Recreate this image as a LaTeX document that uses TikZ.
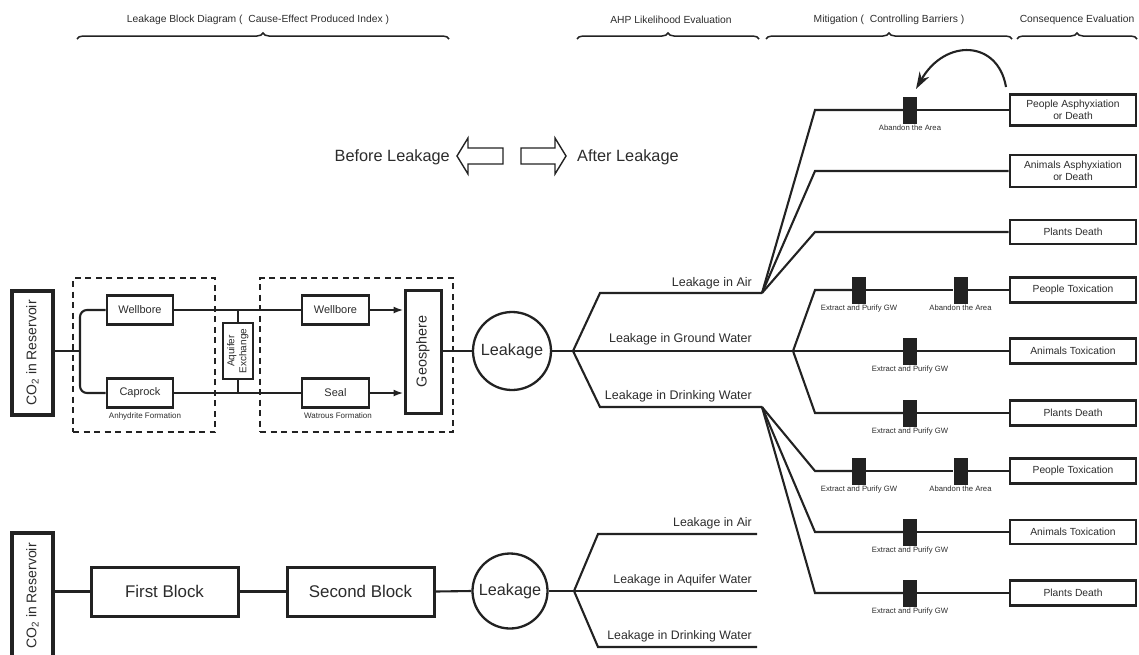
\documentclass[tikz,border=0pt]{standalone}
\usepackage{fontspec}
\setmainfont{Liberation Sans}
\usetikzlibrary{arrows.meta,decorations.pathreplacing}
\definecolor{ink}{HTML}{222222}
\definecolor{txt}{HTML}{2c2c2c}
\tikzset{
  box/.style={draw=ink, line width=2.9pt, fill=white, inner sep=0pt, text=txt, align=center},
  conn/.style={draw=ink, line width=2.1pt},
  barrier/.style={fill=ink, minimum width=14pt, minimum height=27pt, inner sep=0pt},
  barlbl/.style={font=\fontsize{7.7}{9}\selectfont, text=txt, inner sep=1pt},
  conseq/.style={box, minimum width=126pt, font=\fontsize{10.3}{12.2}\selectfont},
  smallblk/.style={box, minimum width=66pt, minimum height=29pt, font=\fontsize{11}{13}\selectfont},
  bigblk/.style={box, line width=3pt, minimum width=147pt, minimum height=49pt, font=\fontsize{16.9}{20}\selectfont},
  branchlbl/.style={font=\fontsize{12.5}{15}\selectfont, text=txt, anchor=east, inner sep=0pt},
  formlbl/.style={font=\fontsize{8}{9}\selectfont, text=txt, inner sep=0pt},
  headlbl/.style={font=\fontsize{10.3}{12}\selectfont, text=txt, inner sep=0pt},
  bracket/.style={draw=ink, line width=1.5pt, decorate, decoration={brace, amplitude=6pt}},
  framebox/.style={draw=ink, line width=1.8pt, dash pattern=on 6pt off 4.5pt, inner sep=0pt},
  hollow/.style={draw=ink, line width=1.4pt, fill=white, line join=miter},
  leakcirc/.style={circle, draw=ink, line width=2.3pt, fill=white, inner sep=0pt, text=txt, font=\fontsize{16.2}{19}\selectfont},
  reservoir/.style={box, line width=3.4pt, minimum width=41pt, font=\fontsize{14}{16}\selectfont},
  tiparrow/.style={-{Latex[length=10pt,width=7pt]}}
}
\begin{document}
\begin{tikzpicture}[x=1pt,y=-1pt]
\useasboundingbox (0,0) rectangle (1139,654);

% ---------- section headings with braces ----------
\node[headlbl] (hA) at (258,20) {Leakage Block Diagram (\ \ Cause-Effect Produced Index )};
\node[headlbl] (hB) at (671,20) {AHP Likelihood Evaluation};
\node[headlbl] (hC) at (889,20) {Mitigation (\ \ Controlling Barriers )};
\node[headlbl] (hD) at (1077,20) {Consequence Evaluation};
\draw[bracket] (77,39) -- (449,39);
\draw[bracket] (577,39) -- (759,39);
\draw[bracket] (766,39) -- (1012,39);
\draw[bracket] (1017,39) -- (1137,39);

% ---------- before / after arrows ----------
\node[font=\fontsize{16.3}{19}\selectfont, text=txt, anchor=east, inner sep=0pt] (before) at (450,157) {Before Leakage};
\node[font=\fontsize{16.3}{19}\selectfont, text=txt, anchor=west, inner sep=0pt] (after) at (577,157) {After Leakage};
\draw[hollow] (503,148) -- (468,148) -- (468,138) -- (457,156) -- (468,174) -- (468,164) -- (503,164) -- cycle;
\draw[hollow] (521,148) -- (555,148) -- (555,138) -- (566,156) -- (555,174) -- (555,164) -- (521,164) -- cycle;

% ---------- upper block diagram ----------
\node[framebox, minimum width=142pt, minimum height=154pt] (frA) at (144,355) {};
\node[framebox, minimum width=193pt, minimum height=154pt] (frB) at (356.5,355) {};
\node[formlbl] (anh) at (145,416) {Anhydrite Formation};
\node[formlbl] (wat) at (338,416) {Watrous Formation};

\node[reservoir, minimum height=124pt] (co2a) at (32.5,353) {\rotatebox{90}{CO\textsubscript{2} in Reservoir}};
\coordinate (j1) at (80,351);
\node[smallblk] (wb1) at (140,310) {Wellbore};
\node[smallblk] (cr1) at (140,393) {Caprock};
\node[box, line width=2.6pt, minimum width=30pt, minimum height=56pt, font=\fontsize{10}{12}\selectfont] (aq) at (238,351)
  {\rotatebox{90}{\begin{tabular}{@{}c@{}}Aquifer\\Exchange\end{tabular}}};
\node[smallblk, minimum width=67pt] (wb2) at (335.5,310) {Wellbore};
\node[smallblk, minimum width=67pt] (seal) at (335.5,393) {Seal};
\node[box, line width=3pt, minimum width=36pt, minimum height=123pt, font=\fontsize{14.4}{17}\selectfont] (geo) at (423,351.5)
  {\rotatebox{90}{Geosphere}};
\node[leakcirc, minimum size=78pt] (leak1) at (512,351) {Leakage};

\draw[conn] (co2a.east |- j1) -- (j1);
\draw[conn, rounded corners=7pt] (wb1.west) -- (j1 |- wb1.west) -- (j1 |- cr1.west) -- (cr1.west);
\draw[conn] (wb1.east) -- (wb2.west);
\draw[conn] (cr1.east) -- (seal.west);
\draw[conn] (aq.north) -- (aq.north |- wb1.east);
\draw[conn] (aq.south) -- (aq.south |- cr1.east);
\draw[conn, tiparrow] (wb2.east) -- (wb2.east -| geo.west);
\draw[conn, tiparrow] (seal.east) -- (seal.east -| geo.west);
\draw[conn] (geo.east |- leak1.west) -- (leak1.west);

% ---------- upper leakage pathways ----------
\coordinate (sp1) at (573,351);
\coordinate (airC) at (600,293);
\coordinate (airE) at (762,293);
\coordinate (gwE) at (793,351);
\coordinate (dwC) at (600,407);
\coordinate (dwE) at (762,407);
\draw[conn] (leak1.east) -- (sp1);
\draw[conn] (sp1) -- (airC) -- (airE);
\draw[conn] (sp1) -- (gwE);
\draw[conn] (sp1) -- (dwC) -- (dwE);
\node[branchlbl] (lAir) at (752,283) {Leakage in Air};
\node[branchlbl] (lGW) at (752,339) {Leakage in Ground Water};
\node[branchlbl] (lDW) at (752,396) {Leakage in Drinking Water};

% ---------- consequence boxes ----------
\node[conseq, minimum height=31pt] (c1) at (1073,110) {People Asphyxiation\\or Death};
\node[conseq, minimum height=32pt] (c2) at (1073,171) {Animals Asphyxiation\\or Death};
\node[conseq, minimum height=24pt] (c3) at (1073,232) {Plants Death};
\node[conseq, minimum height=25pt] (c4) at (1073,290) {People Toxication};
\node[conseq, minimum height=25pt] (c5) at (1073,351) {Animals Toxication};
\node[conseq, minimum height=25pt] (c6) at (1073,413) {Plants Death};
\node[conseq, minimum height=25pt] (c7) at (1073,471) {People Toxication};
\node[conseq, minimum height=24pt] (c8) at (1073,532) {Animals Toxication};
\node[conseq, minimum height=25pt] (c9) at (1073,593) {Plants Death};

% ---------- controlling barriers ----------
\node[barrier, label={[barlbl]below:Abandon the Area}] (bA1) at (910,110) {};
\node[barrier, label={[barlbl]below:Extract and Purify GW}] (bP1) at (859,290) {};
\node[barrier, label={[barlbl]below:Abandon the Area}] (bA2) at (960.5,290) {};
\node[barrier, label={[barlbl]below:Extract and Purify GW}] (bP2) at (910,351) {};
\node[barrier, label={[barlbl]below:Extract and Purify GW}] (bP3) at (910,413) {};
\node[barrier, label={[barlbl]below:Extract and Purify GW}] (bP4) at (859,471) {};
\node[barrier, label={[barlbl]below:Abandon the Area}] (bA3) at (960.5,471) {};
\node[barrier, label={[barlbl]below:Extract and Purify GW}] (bP5) at (910,532) {};
\node[barrier, label={[barlbl]below:Extract and Purify GW}] (bP6) at (910,593) {};

% fan-out knees
\coordinate (k1) at (815,110);
\coordinate (k2) at (815,171);
\coordinate (k3) at (815,232);
\coordinate (k4) at (815,290);
\coordinate (k6) at (815,413);
\coordinate (k7) at (815,471);
\coordinate (k8) at (815,532);
\coordinate (k9) at (815,593);

% air branch
\draw[conn] (airE) -- (k1) -- (bA1.west);
\draw[conn] (bA1.east) -- (c1.west);
\draw[conn] (airE) -- (k2) -- (c2.west);
\draw[conn] (airE) -- (k3) -- (c3.west);
% ground water branch
\draw[conn] (gwE) -- (k4) -- (bP1.west);
\draw[conn] (bP1.east) -- (bA2.west);
\draw[conn] (bA2.east) -- (c4.west);
\draw[conn] (gwE) -- (bP2.west);
\draw[conn] (bP2.east) -- (c5.west);
\draw[conn] (gwE) -- (k6) -- (bP3.west);
\draw[conn] (bP3.east) -- (c6.west);
% drinking water branch
\draw[conn] (dwE) -- (k7) -- (bP4.west);
\draw[conn] (bP4.east) -- (bA3.west);
\draw[conn] (bA3.east) -- (c7.west);
\draw[conn] (dwE) -- (k8) -- (bP5.west);
\draw[conn] (bP5.east) -- (c8.west);
\draw[conn] (dwE) -- (k9) -- (bP6.west);
\draw[conn] (bP6.east) -- (c9.west);

% evacuation loop back to the barrier
\coordinate (loopS) at (1006,87);
\coordinate (loopE) at (916,89);
\draw[conn, -{Stealth[length=17pt,width=11pt]}] (loopS) .. controls (998,40) and (945,38) .. (loopE);

% ---------- lower simplified diagram ----------
\node[reservoir, minimum height=126pt] (co2b) at (32.5,596) {\rotatebox{90}{CO\textsubscript{2} in Reservoir}};
\node[bigblk] (first) at (164.5,591.5) {First Block};
\node[bigblk] (second) at (360.5,591.5) {Second Block};
\node[leakcirc, minimum size=75pt] (leak2) at (510,591) {Leakage};
\draw[conn] (co2b.east |- first.west) -- (first.west);
\draw[conn] (first.east) -- (second.west);
\draw[conn] (second.east) -- (leak2.west);

\coordinate (sp2) at (574,591);
\coordinate (aC) at (598,534);
\coordinate (aE) at (757,534);
\coordinate (qE) at (757,591);
\coordinate (dC) at (598,647);
\coordinate (dE) at (757,647);
\draw[conn] (leak2.east) -- (sp2);
\draw[conn] (sp2) -- (aC) -- (aE);
\draw[conn] (sp2) -- (qE);
\draw[conn] (sp2) -- (dC) -- (dE);
\node[branchlbl, font=\fontsize{12.3}{15}\selectfont] (bAir) at (752,523) {Leakage in Air};
\node[branchlbl, font=\fontsize{12.3}{15}\selectfont] (bAq) at (752,580) {Leakage in Aquifer Water};
\node[branchlbl, font=\fontsize{12.3}{15}\selectfont] (bDW) at (752,636) {Leakage in Drinking Water};
\end{tikzpicture}
\end{document}
